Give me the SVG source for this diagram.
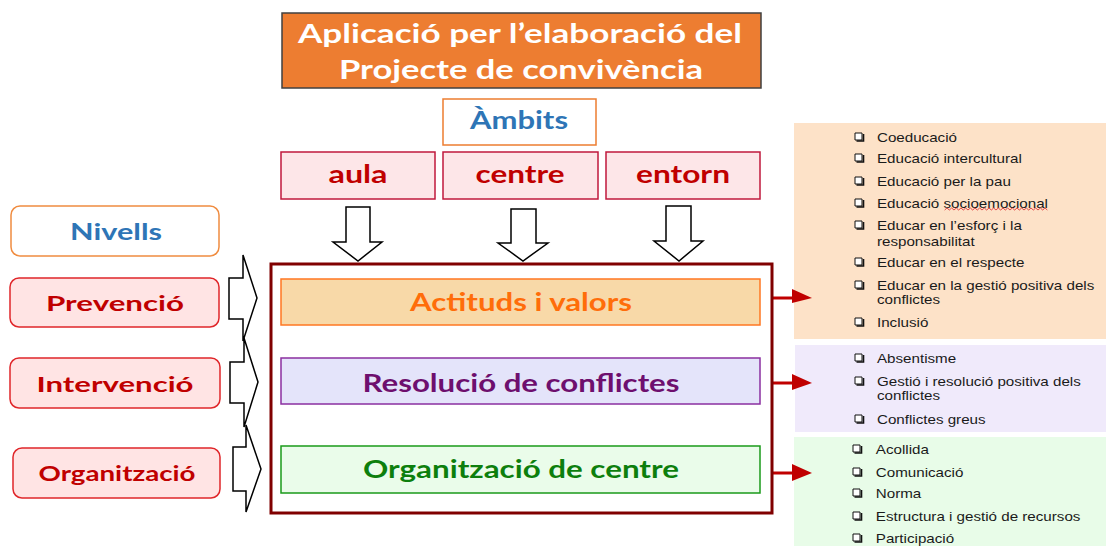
<svg xmlns="http://www.w3.org/2000/svg" width="1108" height="546" viewBox="0 0 1108 546">
<style>
.h{font-family:Lato,"Open Sans",sans-serif;font-weight:bold;text-anchor:middle}
.li{font-family:"Liberation Sans",Arial,sans-serif;font-size:13px;fill:#1a1a1a}
.blk{fill:#fff;stroke:#000;stroke-width:1.5;stroke-linejoin:miter}
.amb{fill:#FDE6E8;stroke:#C0183C;stroke-width:1.5}
.amt{font-size:25px;fill:#C00000}
.lvl{fill:#FFE4E4;stroke:#E0262A;stroke-width:1.5}
.lvt{font-size:21px;fill:#C00000}
.ra{stroke:#C00000;stroke-width:3;fill:none}
.rh{fill:#C00000}
</style>
<defs>
<g id="cb"><path d="M0,0h7v7h-7z" fill="#fff" stroke="#111" stroke-width="1"/><path d="M1.5,8h7v-7" fill="none" stroke="#111" stroke-width="1.6"/></g>
</defs>
<rect width="1108" height="546" fill="#fff"/>

<g id="panels">
<rect x="794" y="123" width="312" height="216" fill="#FDE2C8"/>
<rect x="795" y="345" width="311" height="87" fill="#F0EAFB"/>
<rect x="794" y="437" width="312" height="109" fill="#E8FCE8"/>
</g>

<g id="title">
<rect x="282" y="13" width="479" height="75" fill="#ED7D31" stroke="#404040" stroke-width="1.5"/>
<text class="h" x="520" y="43" font-size="27" fill="#fff" textLength="444" lengthAdjust="spacingAndGlyphs">Aplicació per l’elaboració del</text>
<text class="h" x="521" y="79" font-size="27" fill="#fff" textLength="364" lengthAdjust="spacingAndGlyphs">Projecte de convivència</text>
</g>

<g id="ambits">
<rect x="443" y="99" width="153" height="46" fill="#fff" stroke="#ED7D31" stroke-width="1.5"/>
<text class="h" x="519" y="129" font-size="24" fill="#2E75B6" textLength="98" lengthAdjust="spacingAndGlyphs">Àmbits</text>
</g>
<g id="aula"><rect class="amb" x="281" y="152" width="154" height="47"/><text class="h amt" x="358" y="183" textLength="59" lengthAdjust="spacingAndGlyphs">aula</text></g>
<g id="centre"><rect class="amb" x="443" y="152" width="155" height="47"/><text class="h amt" x="520" y="183" textLength="89" lengthAdjust="spacingAndGlyphs">centre</text></g>
<g id="entorn"><rect class="amb" x="606" y="152" width="154" height="47"/><text class="h amt" x="683" y="183" textLength="94" lengthAdjust="spacingAndGlyphs">entorn</text></g>

<g id="nivells">
<rect x="11" y="206" width="208" height="50" rx="9" fill="#fff" stroke="#F08C40" stroke-width="1.5"/>
<text class="h" x="116" y="240" font-size="22" fill="#2E75B6" textLength="92" lengthAdjust="spacingAndGlyphs">Nivells</text>
</g>
<g id="prevencio"><rect class="lvl" x="10" y="278" width="209" height="49" rx="9"/><text class="h lvt" x="115" y="311" textLength="138" lengthAdjust="spacingAndGlyphs">Prevenció</text></g>
<g id="intervencio"><rect class="lvl" x="10" y="358" width="210" height="50" rx="9"/><text class="h lvt" x="115" y="392" textLength="157" lengthAdjust="spacingAndGlyphs">Intervenció</text></g>
<g id="organitzacio"><rect class="lvl" x="13" y="448" width="207" height="50" rx="9"/><text class="h lvt" x="117" y="481" textLength="157" lengthAdjust="spacingAndGlyphs">Organització</text></g>

<g id="connectors">
<polygon class="blk" points="346,207 370,207 370,242 382,242 358,261 333,242 346,242"/>
<polygon class="blk" points="511,209 536,209 536,243 548,243 523,261 498,243 511,243"/>
<polygon class="blk" points="666,206 691,206 691,241 703,241 679,261 654,241 666,241"/>
<polygon class="blk" points="229,278 243,278 243,255 257,298 243,341 243,319 229,319"/>
<polygon class="blk" points="230,362 244,362 244,338 258,382 244,427 244,403 230,403"/>
<polygon class="blk" points="233,447 246,447 246,425 261,469 246,512 246,491 233,491"/>
<line class="ra" x1="773" y1="298" x2="794" y2="298"/><polygon class="rh" points="792,289 812,298 792,303"/>
<line class="ra" x1="773" y1="383" x2="794" y2="383"/><polygon class="rh" points="792,374 812,383 792,390"/>
<line class="ra" x1="773" y1="473" x2="794" y2="473"/><polygon class="rh" points="792,464 812,473 792,481"/>
</g>

<g id="main">
<rect x="271" y="264" width="501" height="249" fill="#fff" stroke="#800000" stroke-width="3"/>
</g>
<g id="actituds">
<rect x="281" y="279" width="479" height="46" fill="#F8D9A8" stroke="#FF7722" stroke-width="1.5"/>
<text class="h" x="521" y="311" font-size="24" fill="#FF6D0A" textLength="222" lengthAdjust="spacingAndGlyphs">Actituds i valors</text>
</g>
<g id="resolucio">
<rect x="281" y="358" width="479" height="46" fill="#E4E4FA" stroke="#8B2FA0" stroke-width="1.5"/>
<text class="h" x="521" y="392" font-size="24" fill="#6E0F6E" textLength="317" lengthAdjust="spacingAndGlyphs">Resolució de conflictes</text>
</g>
<g id="organitzacio-centre">
<rect x="281" y="446" width="479" height="47" fill="#EAFCEA" stroke="#1A9A1A" stroke-width="1.5"/>
<text class="h" x="521" y="478" font-size="24" fill="#0D7F0D" textLength="316" lengthAdjust="spacingAndGlyphs">Organització de centre</text>
</g>

<g id="list-actituds">
<use href="#cb" x="855" y="133"/><use href="#cb" x="855" y="154"/><use href="#cb" x="855" y="177"/><use href="#cb" x="855" y="199"/>
<use href="#cb" x="855" y="221"/><use href="#cb" x="855" y="258"/><use href="#cb" x="855" y="281"/><use href="#cb" x="855" y="318"/>
<g transform="matrix(1.167,0,0,1,-146.5,0)">
<text class="li" x="877" y="142">Coeducació</text>
<text class="li" x="877" y="163">Educació intercultural</text>
<text class="li" x="877" y="186">Educació per la pau</text>
<text class="li" x="877" y="208">Educació socioemocional</text>
<path d="M935,210 l2,-2 l2,2 l2,-2 l2,2 l2,-2 l2,2 l2,-2 l2,2 l2,-2 l2,2 l2,-2 l2,2 l2,-2 l2,2 l2,-2 l2,2 l2,-2 l2,2 l2,-2 l2,2 l2,-2 l2,2 l2,-2 l2,2 l2,-2 l2,2 l2,-2 l2,2 l2,-2 l2,2 l2,-2 l2,2 l2,-2 l2,2 l2,-2 l2,2 l2,-2 l2,2 l2,-2 l2,2 l2,-2 l2,2 l2,-2 l2,2" fill="none" stroke="#E03030" stroke-width="0.8"/>
<text class="li" x="877" y="230">Educar en l’esforç i la</text>
<text class="li" x="877" y="246">responsabilitat</text>
<text class="li" x="877" y="267">Educar en el respecte</text>
<text class="li" x="877" y="290">Educar en la gestió positiva dels</text>
<text class="li" x="877" y="304">conflictes</text>
<text class="li" x="877" y="327">Inclusió</text>
</g>
</g>
<g id="list-resolucio">
<use href="#cb" x="855" y="354"/><use href="#cb" x="855" y="377"/><use href="#cb" x="855" y="415"/>
<g transform="matrix(1.167,0,0,1,-146.5,0)">
<text class="li" x="877" y="363">Absentisme</text>
<text class="li" x="877" y="386">Gestió i resolució positiva dels</text>
<text class="li" x="877" y="400">conflictes</text>
<text class="li" x="877" y="424">Conflictes greus</text>
</g>
</g>
<g id="list-organitzacio">
<use href="#cb" x="853" y="445"/><use href="#cb" x="853" y="468"/><use href="#cb" x="853" y="489"/><use href="#cb" x="853" y="512"/><use href="#cb" x="853" y="534"/>
<g transform="matrix(1.167,0,0,1,-146.5,0)">
<text class="li" x="876" y="454">Acollida</text>
<text class="li" x="876" y="477">Comunicació</text>
<text class="li" x="876" y="498">Norma</text>
<text class="li" x="876" y="521">Estructura i gestió de recursos</text>
<text class="li" x="876" y="543">Participació</text>
</g>
</g>
</svg>
